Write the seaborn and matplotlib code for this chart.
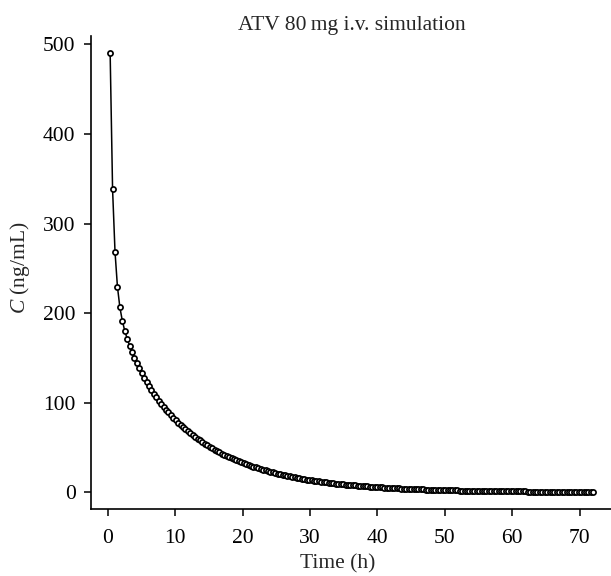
import pandas as pd
import seaborn as sns
import matplotlib
matplotlib.use("Agg")
import matplotlib.pyplot as plt

# Simulated plasma concentration after an 80 mg i.v. dose
time_h = [
    0.36, 0.72, 1.08, 1.44, 1.8, 2.16, 2.52, 2.88, 3.24, 3.6,
    3.96, 4.32, 4.68, 5.04, 5.4, 5.76, 6.12, 6.48, 6.84, 7.2,
    7.56, 7.92, 8.28, 8.64, 9.0, 9.36, 9.72, 10.08, 10.44, 10.8,
    11.16, 11.52, 11.88, 12.24, 12.6, 12.96, 13.32, 13.68, 14.04, 14.4,
    14.76, 15.12, 15.48, 15.84, 16.2, 16.56, 16.92, 17.28, 17.64, 18.0,
    18.36, 18.72, 19.08, 19.44, 19.8, 20.16, 20.52, 20.88, 21.24, 21.6,
    21.96, 22.32, 22.68, 23.04, 23.4, 23.76, 24.12, 24.48, 24.84, 25.2,
    25.56, 25.92, 26.28, 26.64, 27.0, 27.36, 27.72, 28.08, 28.44, 28.8,
    29.16, 29.52, 29.88, 30.24, 30.6, 30.96, 31.32, 31.68, 32.04, 32.4,
    32.76, 33.12, 33.48, 33.84, 34.2, 34.56, 34.92, 35.28, 35.64, 36.0,
    36.36, 36.72, 37.08, 37.44, 37.8, 38.16, 38.52, 38.88, 39.24, 39.6,
    39.96, 40.32, 40.68, 41.04, 41.4, 41.76, 42.12, 42.48, 42.84, 43.2,
    43.56, 43.92, 44.28, 44.64, 45.0, 45.36, 45.72, 46.08, 46.44, 46.8,
    47.16, 47.52, 47.88, 48.24, 48.6, 48.96, 49.32, 49.68, 50.04, 50.4,
    50.76, 51.12, 51.48, 51.84, 52.2, 52.56, 52.92, 53.28, 53.64, 54.0,
    54.36, 54.72, 55.08, 55.44, 55.8, 56.16, 56.52, 56.88, 57.24, 57.6,
    57.96, 58.32, 58.68, 59.04, 59.4, 59.76, 60.12, 60.48, 60.84, 61.2,
    61.56, 61.92, 62.28, 62.64, 63.0, 63.36, 63.72, 64.08, 64.44, 64.8,
    65.16, 65.52, 65.88, 66.24, 66.6, 66.96, 67.32, 67.68, 68.04, 68.4,
    68.76, 69.12, 69.48, 69.84, 70.2, 70.56, 70.92, 71.28, 71.64, 72.0,
]
conc_ng_ml = [
    490.2, 338.0, 268.7, 229.5, 206.6, 191.6, 180.4, 171.4, 163.6, 156.5,
    150.0, 143.9, 138.3, 132.9, 127.9, 123.1, 118.5, 114.2, 110.1, 106.2,
    102.4, 98.9, 95.5, 92.2, 89.1, 86.1, 83.2, 80.4, 77.7, 75.2,
    72.7, 70.3, 68.1, 65.9, 63.7, 61.7, 59.7, 57.8, 55.9, 54.2,
    52.4, 50.8, 49.2, 47.6, 46.1, 44.6, 43.2, 41.9, 40.6, 39.3,
    38.0, 36.8, 35.7, 34.6, 33.5, 32.4, 31.4, 30.4, 29.5, 28.6,
    27.7, 26.8, 26.0, 25.2, 24.4, 23.6, 22.9, 22.2, 21.5, 20.8,
    20.1, 19.5, 18.9, 18.3, 17.7, 17.2, 16.7, 16.1, 15.6, 15.1,
    14.67, 14.21, 13.77, 13.34, 12.92, 12.52, 12.13, 11.75, 11.39, 11.03,
    10.69, 10.35, 10.03, 9.72, 9.41, 9.12, 8.84, 8.56, 8.29, 8.04,
    7.78, 7.54, 7.31, 7.08, 6.86, 6.64, 6.44, 6.24, 6.04, 5.85,
    5.67, 5.49, 5.32, 5.16, 5.00, 4.84, 4.69, 4.54, 4.40, 4.26,
    4.13, 4.00, 3.88, 3.76, 3.64, 3.53, 3.42, 3.31, 3.21, 3.11,
    3.01, 2.92, 2.82, 2.74, 2.65, 2.57, 2.49, 2.41, 2.34, 2.26,
    2.19, 2.12, 2.06, 1.99, 1.93, 1.87, 1.81, 1.76, 1.70, 1.65,
    1.60, 1.55, 1.50, 1.45, 1.41, 1.36, 1.32, 1.28, 1.24, 1.20,
    1.16, 1.13, 1.09, 1.06, 1.03, 0.99, 0.96, 0.93, 0.90, 0.88,
    0.85, 0.82, 0.80, 0.77, 0.75, 0.72, 0.70, 0.68, 0.66, 0.64,
    0.62, 0.60, 0.58, 0.56, 0.54, 0.53, 0.51, 0.49, 0.48, 0.46,
    0.45, 0.44, 0.42, 0.41, 0.40, 0.38, 0.37, 0.36, 0.35, 0.34,
]
x_ticks = [0, 10, 20, 30, 40, 50, 60, 70]
y_ticks = [0, 100, 200, 300, 400, 500]

# the simulation was run in two halves, the line breaks at 36 h
split_h = 36.0

df = pd.DataFrame({'time': time_h, 'conc': conc_ng_ml})
df['run'] = (df['time'] > split_h).astype(int)

sns.set_style("ticks")
plt.rcParams['font.family'] = ['Liberation Serif', 'DejaVu Serif']
plt.rcParams['mathtext.fontset'] = 'custom'
plt.rcParams['mathtext.rm'] = 'Liberation Serif'
plt.rcParams['mathtext.it'] = 'Liberation Serif:italic'

fig = plt.figure(figsize=(6.11, 5.76), dpi=100)
ax = fig.add_axes([0.1486, 0.1155, 0.854, 0.8227])

sns.lineplot(data=df, x='time', y='conc', units='run', estimator=None,
             color='black', linewidth=1.1, marker='o', markersize=3.7,
             markerfacecolor='white', markeredgecolor='black',
             markeredgewidth=1.25, ax=ax)

# R-like axis padding (4 %)
ax.set_xlim(-2.51, 74.87)
ax.set_ylim(-19.25, 509.8)
ax.set_xticks(x_ticks)
ax.set_yticks(y_ticks)
sns.despine(ax=ax)
for side in ['left', 'bottom']:
    ax.spines[side].set_linewidth(1.2)
    ax.spines[side].set_color('black')
ax.tick_params(direction='out', length=5, width=1.1, labelsize=15.5,
               colors='black')
ax.tick_params(axis='x', pad=9)
ax.tick_params(axis='y', pad=6)

ax.set_xlabel('')
ax.set_ylabel('')
ax.set_title('ATV 80\u2009mg i.v. simulation', fontsize=15.5, pad=4)
fig.text(338 / 611, 1 - 564 / 576, 'Time (h)', fontsize=15.5,
         ha='center', va='center')
fig.text(20 / 611, 1 - 268 / 576, r'$C$ (ng/mL)', fontsize=15.5,
         rotation=90, ha='center', va='center')

fig.savefig('out.png', dpi=100)
